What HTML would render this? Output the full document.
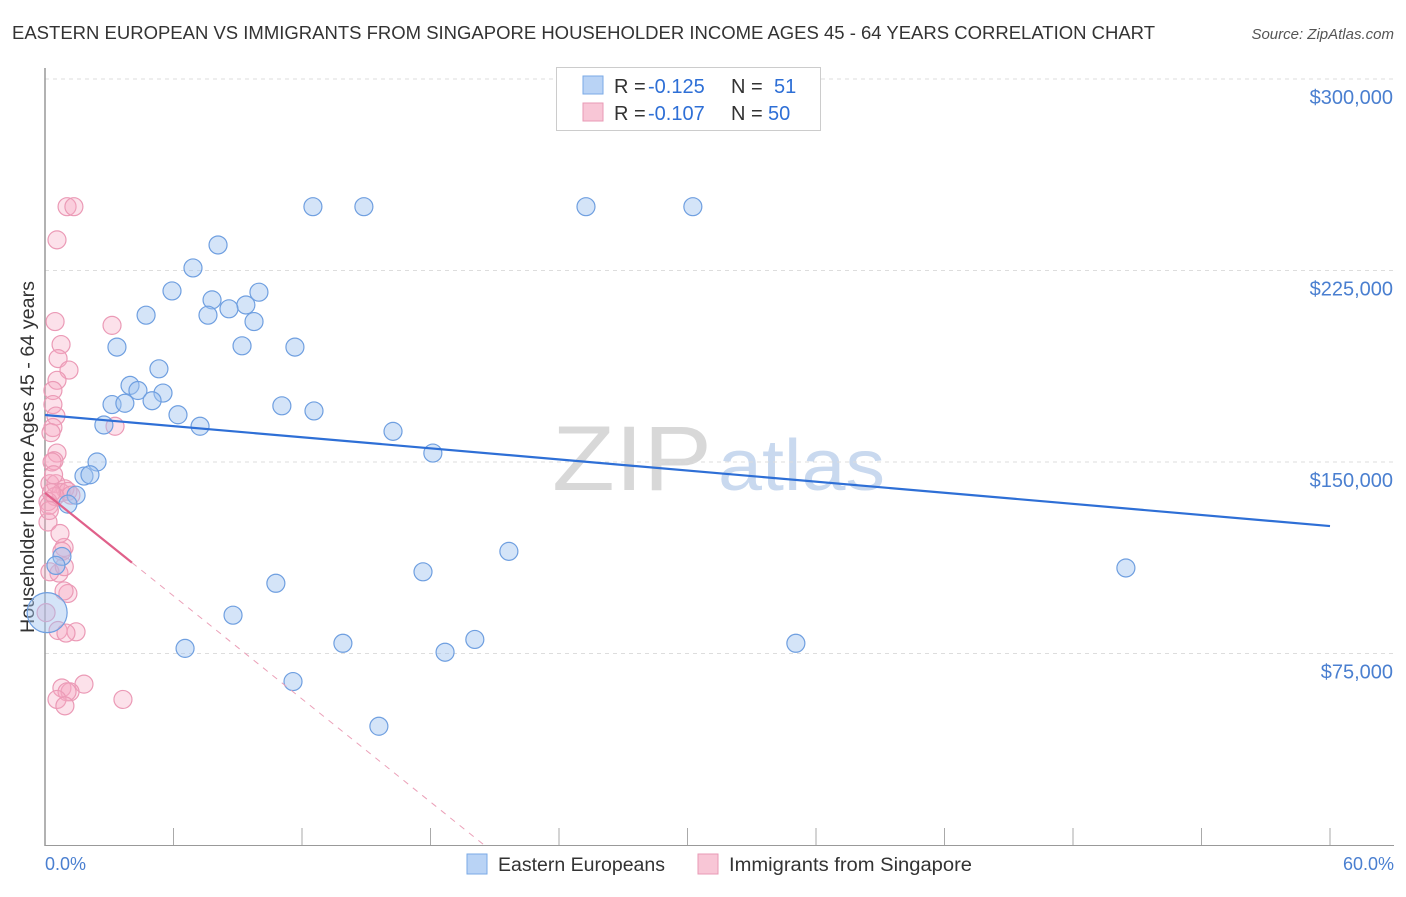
<!DOCTYPE html>
<html><head><meta charset="utf-8">
<style>
body{margin:0;background:#fff;font-family:"Liberation Sans",sans-serif;}
svg text{font-family:"Liberation Sans",sans-serif;}
</style></head>
<body>
<svg id="chart" width="1406" height="892" xmlns="http://www.w3.org/2000/svg">
<text x="12" y="39" font-size="18" fill="#333" textLength="1143" lengthAdjust="spacingAndGlyphs">EASTERN EUROPEAN VS IMMIGRANTS FROM SINGAPORE HOUSEHOLDER INCOME AGES 45 - 64 YEARS CORRELATION CHART</text>
<text x="1394" y="39" font-size="15" fill="#555" font-style="italic" text-anchor="end">Source: ZipAtlas.com</text>
<g>
<text x="552" y="490" font-size="92" fill="#d8d8d8" font-family="Liberation Serif" textLength="160" lengthAdjust="spacingAndGlyphs">ZIP</text>
<text x="718" y="490" font-size="72" fill="#c9d9ef" textLength="167" lengthAdjust="spacingAndGlyphs">atlas</text>
</g>
<g id="grid"></g>
<line x1="45" y1="68" x2="45" y2="846" stroke="#999" stroke-width="1.5"/>
<line x1="45" y1="845.5" x2="1394" y2="845.5" stroke="#999" stroke-width="1"/>
<text transform="translate(34,457) rotate(-90)" font-size="19" fill="#333" text-anchor="middle" textLength="352" lengthAdjust="spacingAndGlyphs">Householder Income Ages 45 - 64 years</text>
<text x="45" y="870" font-size="18" fill="#4a7fd0">0.0%</text>
<text x="1394" y="870" font-size="18" fill="#4a7fd0" text-anchor="end">60.0%</text>
<g id="marks"></g>
<g>
<rect x="556.5" y="67.5" width="264" height="63" fill="#fff" stroke="#ccc"/>
<rect x="583" y="76" width="20" height="18" fill="#b9d3f5" stroke="#7aaae6"/>
<text x="614" y="93" font-size="20" fill="#333">R =</text>
<text x="648" y="93" font-size="20" fill="#2e6fd6">-0.125</text>
<text x="731" y="93" font-size="20" fill="#333">N =</text>
<text x="774" y="93" font-size="20" fill="#2e6fd6">51</text>
<rect x="583" y="103" width="20" height="18" fill="#f8c6d6" stroke="#e89ab5"/>
<text x="614" y="120" font-size="20" fill="#333">R =</text>
<text x="648" y="120" font-size="20" fill="#2e6fd6">-0.107</text>
<text x="731" y="120" font-size="20" fill="#333">N =</text>
<text x="768" y="120" font-size="20" fill="#2e6fd6">50</text>
</g>
<g>
<rect x="467" y="854" width="20" height="20" fill="#b9d3f5" stroke="#7aaae6"/>
<text x="498" y="871" font-size="19" fill="#333" textLength="167" lengthAdjust="spacingAndGlyphs">Eastern Europeans</text>
<rect x="698" y="854" width="20" height="20" fill="#f8c6d6" stroke="#e89ab5"/>
<text x="729" y="871" font-size="19" fill="#333" textLength="243" lengthAdjust="spacingAndGlyphs">Immigrants from Singapore</text>
</g>
</svg>
<script>
const yTicks=[75000,150000,225000,300000];
const yTickLabels=["$75,000","$150,000","$225,000","$300,000"];
const xTicks=[0,6,12,18,24,30,36,42,48,54,60];
const bluePct=[12.51,14.89,25.26,30.25,8.08,6.91,5.93,7.80,9.99,9.38,8.59,7.61,4.72,9.76,3.36,9.20,11.67,5.32,3.97,4.34,5.51,5.00,3.13,3.73,11.06,12.56,6.21,2.75,7.24,16.25,18.11,2.43,1.82,2.10,1.45,1.07,21.66,0.79,0.51,50.47,17.65,10.78,8.78,0.10,6.54,13.91,18.68,20.07,35.06,11.58,15.59];
const blueVal=[250000,250000,250000,250000,235000,226000,217000,213500,216500,211500,210000,207500,207500,205000,195000,195500,195000,186500,180000,178000,177000,174000,172500,173000,172000,170000,168500,164500,164000,162000,153500,150000,144500,145000,137000,133500,115000,113000,109500,108500,107000,102500,90000,91000,77000,79000,75500,80500,79000,64000,46500];
const blueR=[9,9,9,9,9,9,9,9,9,9,9,9,9,9,9,9,9,9,9,9,9,9,9,9,9,9,9,9,9,9,9,9,9,9,9,9,9,9,9,9,9,9,9,20,9,9,9,9,9,9,9];
const pinkPct=[1.03,1.35,0.56,0.47,3.13,0.75,0.61,1.12,0.56,0.37,0.37,0.51,0.37,0.28,3.27,0.56,0.42,0.33,0.23,0.51,0.93,0.75,1.07,1.21,0.47,0.14,0.19,0.14,0.89,0.79,0.65,0.23,1.07,0.89,0.05,0.61,1.45,0.98,1.82,0.79,1.17,1.03,0.56,0.93,3.64,0.30,0.20,0.90,0.40,0.70];
const pinkVal=[250000,250000,237000,205000,203500,196000,190500,186000,182000,178000,172500,168000,163500,161500,164000,153500,150500,150000,141500,141500,139500,138000,138500,137000,136500,134500,133000,126500,116500,115000,106500,107000,98500,99500,91000,84000,83500,83000,63000,61500,60000,60000,57000,54500,57000,138000,131000,109000,145000,122000];
const blueTrend=[168400,124900];
const pinkTrend=[137900,-6725];
const pinkSolidEnd=4.06;
const X=p=>45+p*(1285/60);
const Y=v=>845-v*(191.5/75000);
const NS="http://www.w3.org/2000/svg";
const grid=document.getElementById('grid'),marks=document.getElementById('marks');
function mk(tag,attrs,parent){const e=document.createElementNS(NS,tag);for(const k in attrs)e.setAttribute(k,attrs[k]);parent.appendChild(e);return e;}
let gl=mk('line',{x1:45,x2:1394,y1:Y(300000),y2:Y(300000),stroke:'#ddd','stroke-dasharray':'4,4'},grid);


yTicks.forEach((v,i)=>{
 const l=mk('line',{x1:45,x2:1394,y1:Y(v),y2:Y(v),stroke:'#ddd','stroke-dasharray':'4,4'},grid);
 
 
 const t=mk('text',{x:1393,y:Y(v)+25,'font-size':20,fill:'#4a7fd0','text-anchor':'end'},grid);
 t.textContent=yTickLabels[i];
 
 
});
xTicks.forEach(p=>{
 const l=mk('line',{x1:X(p),x2:X(p),y1:828,y2:845,stroke:'#aaa'},grid);
 
 
});
pinkPct.forEach((p,i)=>{
 const c=mk('circle',{cx:X(p),cy:Y(pinkVal[i]),r:9,fill:'rgba(246,170,196,0.35)',stroke:'#eb9ab6','stroke-width':1.2},marks);
 
 
});
bluePct.forEach((p,i)=>{
 const c=mk('circle',{cx:X(p),cy:Y(blueVal[i]),r:blueR[i],fill:'rgba(160,196,240,0.45)',stroke:'#6f9fe0','stroke-width':1.2},marks);
 
 
});
let bt=mk('line',{x1:X(0),y1:Y(blueTrend[0]),x2:X(60),y2:Y(blueTrend[1]),stroke:'#2e6fd6','stroke-width':2.2},marks);


const pz=-pinkTrend[0]/pinkTrend[1];
let pd=mk('line',{x1:X(pinkSolidEnd),y1:Y(pinkTrend[0]+pinkTrend[1]*pinkSolidEnd),x2:X(pz),y2:Y(0),stroke:'#eba0b8','stroke-width':1,'stroke-dasharray':'6,6'},marks);


let ps=mk('line',{x1:X(0),y1:Y(pinkTrend[0]),x2:X(pinkSolidEnd),y2:Y(pinkTrend[0]+pinkTrend[1]*pinkSolidEnd),stroke:'#e0608a','stroke-width':2.2},marks);


</script>
</body></html>
